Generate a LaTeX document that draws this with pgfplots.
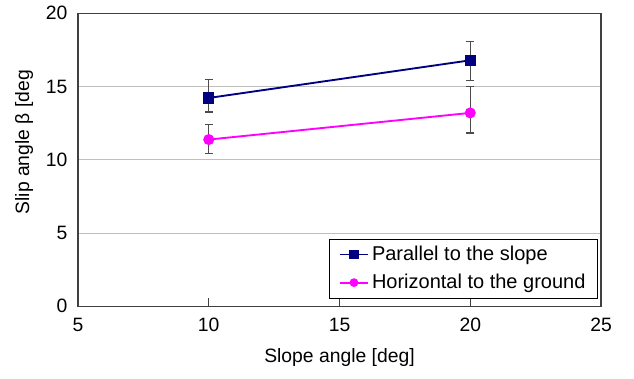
\documentclass[border=0pt]{standalone}
\usepackage{fontspec}
\setmainfont{Liberation Sans}
\usepackage{pgfplots}
\pgfplotsset{compat=1.18}
\usetikzlibrary{calc}
\definecolor{navyb}{HTML}{000080}
\definecolor{magen}{HTML}{FF00FF}
\begin{document}
\fontsize{14.5}{17}\selectfont
\begin{tikzpicture}
\begin{axis}[
  scale only axis,
  width=392.25pt, height=219.75pt,
  xmin=5, xmax=25, ymin=0, ymax=20,
  xtick={5,10,15,20,25}, ytick={0,5,10,15,20},
  /pgf/number format/assume math mode=true,
  tick label style={font=\fontsize{14.5}{17}\selectfont},
  label style={font=\fontsize{14.5}{17}\selectfont},
  axis line style={black!75, line width=0.8pt},
  ymajorgrids, grid style={black!25, line width=0.6pt},
  xtick pos=bottom, ytick pos=left,
  x tick style={black!75, line width=0.8pt},
  xtick align=inside,
  y tick style={draw=none},
  major tick length=6pt,
  xticklabel style={yshift=-4pt},
  yticklabel style={xshift=-3pt},
  xlabel={Slope angle [deg]},
  ylabel={Slip angle β [deg},
  xlabel style={at={(axis description cs:0.5,-0.174)}, anchor=center},
  ylabel style={at={(axis description cs:-0.103,0.56)}, anchor=center, rotate=0},
  legend style={at={(rel axis cs:0.994,0.027)}, anchor=south east,
    draw=black, line width=0.6pt, font=\fontsize{15}{17}\selectfont,
    row sep=4pt, inner xsep=7pt, inner ysep=3pt},
  legend cell align=left,
  legend image code/.code={\draw[mark repeat=2,mark phase=2,#1,mark options={scale=0.75}] plot coordinates {(0cm,0cm)(0.38cm,0cm)(0.76cm,0cm)};},
]
\addplot[navyb, line width=1.4pt, mark=square*, mark size=3.6pt,
  error bars/.cd, y dir=both, y explicit,
  error bar style={black!70, line width=0.8pt},
  error mark options={black!70, line width=0.8pt, rotate=90, mark size=3pt}]
  table[x=x, y=y, y error plus=ep, y error minus=em] {
  x  y     ep    em
  10 14.22 1.28  0.96
  20 16.79 1.31  1.41
};
\addlegendentry{Parallel to the slope}
\addplot[magen, line width=1.4pt, mark=*, mark size=3.4pt,
  error bars/.cd, y dir=both, y explicit,
  error bar style={black!70, line width=0.8pt},
  error mark options={black!70, line width=0.8pt, rotate=90, mark size=3pt}]
  table[x=x, y=y, y error plus=ep, y error minus=em] {
  x  y     ep    em
  10 11.38 1.04  0.92
  20 13.20 1.80  1.37
};
\addlegendentry{Horizontal to the ground}
\end{axis}
\path[use as bounding box] ($(current axis.south west)+(-58.5pt,-54pt)$) rectangle ($(current axis.north east)+(24.75pt,9.75pt)$);
\end{tikzpicture}
\end{document}
